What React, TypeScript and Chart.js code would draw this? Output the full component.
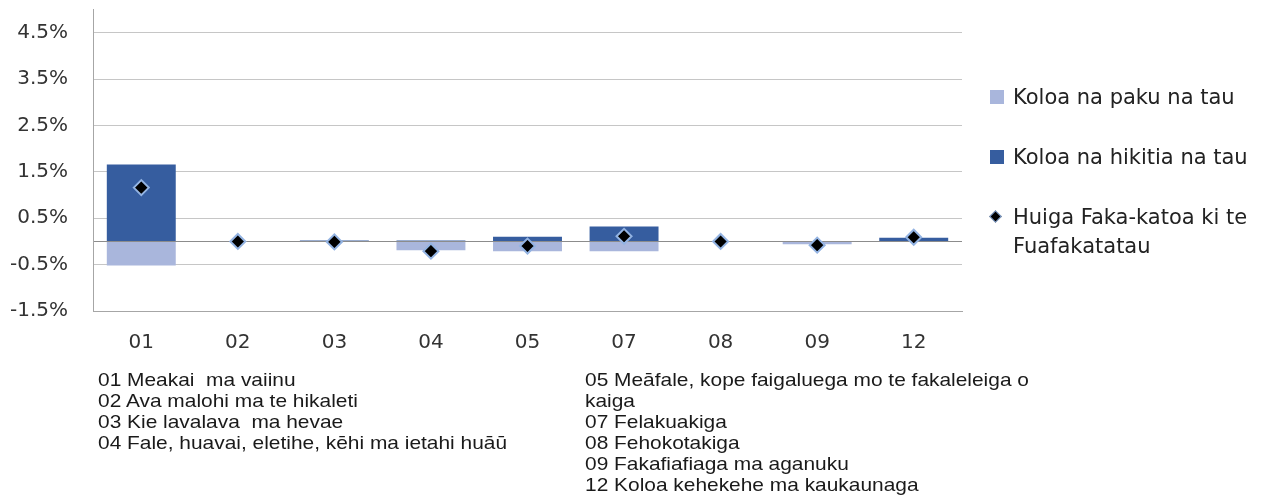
import React, { useEffect, useRef } from 'react';
import { Chart, registerables } from 'chart.js';

Chart.register(...registerables);

// ---- Data ----
const categories = ['01', '02', '03', '04', '05', '07', '08', '09', '12'];
const pakuValues = [-0.52, 0, 0, -0.19, -0.21, -0.21, 0, -0.06, 0];
const hikitiaValues = [1.66, 0, 0.02, 0.02, 0.1, 0.32, 0, 0, 0.08];
const huigaValues = [1.16, 0, -0.01, -0.21, -0.1, 0.11, 0, -0.08, 0.09];
const yTickValues = [-1.5, -0.5, 0, 0.5, 1.5, 2.5, 3.5, 4.5];
const yMin = -1.5;
const yMax = 5.0;

const seriesLabels = [
  'Koloa na paku na tau',
  'Koloa na hikitia na tau',
  'Huiga Faka-katoa ki te Fuafakatatau',
];

const footnotesLeft = [
  '01 Meakai  ma vaiinu',
  '02 Ava malohi ma te hikaleti',
  '03 Kie lavalava  ma hevae',
  '04 Fale, huavai, eletihe, kēhi ma ietahi huāū',
];
const footnotesRight = [
  '05 Meāfale, kope faigaluega mo te fakaleleiga o',
  'kaiga',
  '07 Felakuakiga',
  '08 Fehokotakiga',
  '09 Fakafiafiaga ma aganuku',
  '12 Koloa kehekehe ma kaukaunaga',
];

const LIGHT = '#A9B6DC';
const DARK = '#365D9F';
const MARK_BORDER = '#93B3E2';
const CHART_FONT = '"DejaVu Sans", sans-serif';

export default function App() {
  const canvasRef = useRef<HTMLCanvasElement | null>(null);

  useEffect(() => {
    if (!canvasRef.current) return;
    const chart = new Chart(canvasRef.current, {
      type: 'bar',
      data: {
        labels: categories,
        datasets: [
          {
            type: 'line',
            label: seriesLabels[2],
            data: huigaValues,
            showLine: false,
            pointStyle: 'rectRot',
            pointRadius: 7.5,
            pointHoverRadius: 7.5,
            pointBackgroundColor: '#000000',
            pointBorderColor: MARK_BORDER,
            pointBorderWidth: 2,
            stack: 'huiga',
            order: 0,
          } as any,
          {
            type: 'bar',
            label: seriesLabels[0],
            data: pakuValues,
            backgroundColor: LIGHT,
            borderWidth: 0,
            stack: 'bars',
            order: 1,
            categoryPercentage: 1,
            barPercentage: 0.714,
          },
          {
            type: 'bar',
            label: seriesLabels[1],
            data: hikitiaValues,
            backgroundColor: DARK,
            borderWidth: 0,
            stack: 'bars',
            order: 1,
            categoryPercentage: 1,
            barPercentage: 0.714,
          },
        ],
      },
      options: {
        responsive: false,
        maintainAspectRatio: false,
        animation: false,
        layout: { padding: { left: 0, right: 300, top: 5, bottom: 0 } },
        plugins: {
          legend: { display: false },
          tooltip: { enabled: false },
        },
        scales: {
          x: {
            stacked: true,
            grid: { display: false, drawTicks: false },
            border: { display: true, color: '#A6A6A6', width: 1 },
            ticks: {
              padding: 20,
              color: '#333333',
              font: { family: CHART_FONT, size: 20 },
              maxRotation: 0,
            },
            afterFit: (s: any) => {
              s.height = 59;
              s.paddingLeft = 0;
              s.paddingRight = 0;
            },
          },
          y: {
            stacked: true,
            min: yMin,
            max: yMax,
            afterBuildTicks: (s: any) => {
              s.ticks = yTickValues.map((v) => ({ value: v }));
            },
            grid: {
              drawTicks: false,
              lineWidth: 1,
              color: (ctx: any) =>
                ctx.tick && ctx.tick.value === 0 ? '#8C8C8C' : '#C6C6C6',
            },
            border: { display: true, color: '#A6A6A6', width: 1 },
            ticks: {
              padding: 25,
              color: '#333333',
              font: { family: CHART_FONT, size: 20 },
              callback: (v: any) => (Number(v) === 0 ? '' : Number(v).toFixed(1) + '%'),
            },
            afterFit: (s: any) => {
              s.width = 93;
              s.paddingTop = 0;
              s.paddingBottom = 0;
            },
          },
        },
      },
    });
    return () => chart.destroy();
  }, []);

  const legendText: React.CSSProperties = {
    position: 'absolute',
    left: 1013,
    fontFamily: CHART_FONT,
    fontSize: 21,
    lineHeight: '29px',
    color: '#222222',
    whiteSpace: 'nowrap',
  };

  const footStyle: React.CSSProperties = {
    position: 'absolute',
    top: 369,
    fontFamily: '"Liberation Sans", Arial, sans-serif',
    fontSize: 18.5,
    lineHeight: '21px',
    color: '#1a1a1a',
    whiteSpace: 'pre',
    transform: 'scaleX(1.13)',
    transformOrigin: 'left top',
  };

  return (
    <div
      style={{
        position: 'absolute',
        left: 0,
        top: 0,
        width: 1262,
        height: 497,
        background: '#ffffff',
        overflow: 'hidden',
      }}
    >
      <canvas
        ref={canvasRef}
        width={1262}
        height={370}
        style={{ position: 'absolute', left: 0, top: 0, width: 1262, height: 370 }}
      />
      {/* Legend */}
      <div style={{ position: 'absolute', left: 990, top: 90, width: 14, height: 14, background: LIGHT }} />
      <div style={{ ...legendText, top: 82.5 }}>{seriesLabels[0]}</div>
      <div style={{ position: 'absolute', left: 990, top: 150, width: 14, height: 14, background: DARK }} />
      <div style={{ ...legendText, top: 142.5 }}>{seriesLabels[1]}</div>
      <div
        style={{
          position: 'absolute',
          left: 991,
          top: 212,
          width: 7,
          height: 7,
          background: '#000',
          border: `1.5px solid ${MARK_BORDER}`,
          transform: 'rotate(45deg)',
        }}
      />
      <div style={{ ...legendText, top: 202.5, whiteSpace: 'normal', width: 240 }}>{seriesLabels[2]}</div>
      {/* Footnotes */}
      <div style={{ ...footStyle, left: 98 }}>
        {footnotesLeft.map((t, i) => (
          <div key={i}>{t}</div>
        ))}
      </div>
      <div style={{ ...footStyle, left: 585 }}>
        {footnotesRight.map((t, i) => (
          <div key={i}>{t}</div>
        ))}
      </div>
    </div>
  );
}
